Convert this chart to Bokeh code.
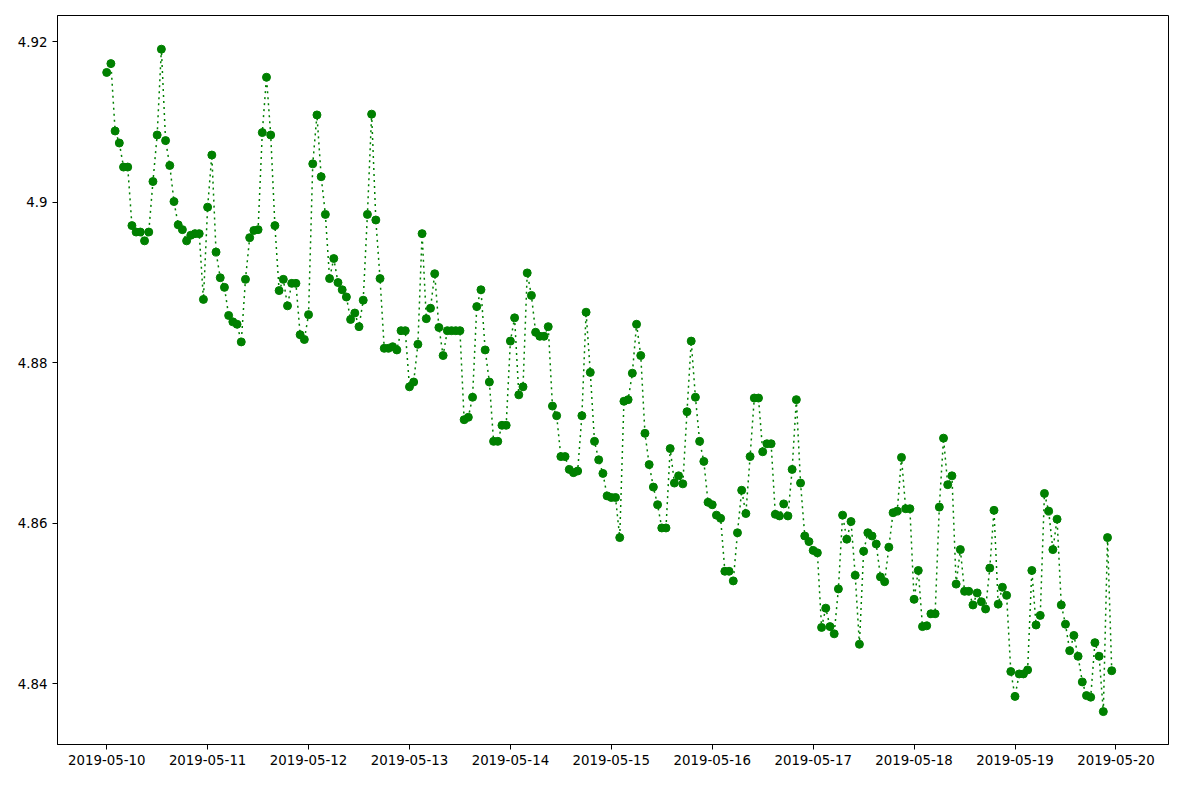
from datetime import datetime, timedelta

import pandas as pd
from bokeh.embed import file_html
from bokeh.models import DatetimeTickFormatter, FixedTicker, Range1d
from bokeh.plotting import figure
from bokeh.resources import INLINE

start = datetime(2019, 5, 10)

values = [
    4.9162, 4.9173, 4.9089, 4.9074, 4.9044, 4.9044, 4.8971, 4.8963, 4.8963, 4.8952, 4.8963, 4.9026,
    4.9084, 4.9191, 4.9077, 4.9046, 4.9001, 4.8972, 4.8966, 4.8952, 4.8959, 4.8961, 4.8961, 4.8879,
    4.8994, 4.9059, 4.8938, 4.8906, 4.8894, 4.8859, 4.8851, 4.8848, 4.8826, 4.8904, 4.8956, 4.8965,
    4.8966, 4.9087, 4.9156, 4.9084, 4.8971, 4.8890, 4.8904, 4.8871, 4.8899, 4.8899, 4.8835, 4.8829,
    4.8860, 4.9048, 4.9109, 4.9032, 4.8985, 4.8905, 4.8930, 4.8900, 4.8891, 4.8882, 4.8854, 4.8862,
    4.8845, 4.8878, 4.8985, 4.9110, 4.8978, 4.8905, 4.8818, 4.8818, 4.8820, 4.8816, 4.8840, 4.8840,
    4.8770, 4.8776, 4.8823, 4.8961, 4.8855, 4.8868, 4.8911, 4.8844, 4.8809, 4.8840, 4.8840, 4.8840,
    4.8840, 4.8729, 4.8732, 4.8757, 4.8870, 4.8891, 4.8816, 4.8776, 4.8702, 4.8702, 4.8722, 4.8722,
    4.8827, 4.8856, 4.8760, 4.8770, 4.8912, 4.8884, 4.8838, 4.8833, 4.8833, 4.8845, 4.8746, 4.8734,
    4.8683, 4.8683, 4.8667, 4.8663, 4.8665, 4.8734, 4.8863, 4.8788, 4.8702, 4.8679, 4.8662, 4.8634,
    4.8632, 4.8632, 4.8582, 4.8752, 4.8754, 4.8787, 4.8848, 4.8809, 4.8712, 4.8673, 4.8645, 4.8623,
    4.8594, 4.8594, 4.8693, 4.8650, 4.8659, 4.8649, 4.8739, 4.8827, 4.8757, 4.8702, 4.8677, 4.8626,
    4.8623, 4.8610, 4.8606, 4.8540, 4.8540, 4.8528, 4.8588, 4.8641, 4.8612, 4.8683, 4.8756, 4.8756,
    4.8689, 4.8699, 4.8699, 4.8611, 4.8609, 4.8624, 4.8609, 4.8667, 4.8754, 4.8650, 4.8584, 4.8577,
    4.8566, 4.8563, 4.8470, 4.8494, 4.8471, 4.8462, 4.8518, 4.8610, 4.8580, 4.8602, 4.8535, 4.8449,
    4.8565, 4.8588, 4.8584, 4.8574, 4.8533, 4.8527, 4.8570, 4.8613, 4.8615, 4.8682, 4.8618, 4.8618,
    4.8505, 4.8541, 4.8471, 4.8472, 4.8487, 4.8487, 4.8620, 4.8706, 4.8648, 4.8659, 4.8524, 4.8567,
    4.8515, 4.8515, 4.8498, 4.8513, 4.8502, 4.8493, 4.8544, 4.8616, 4.8499, 4.8520, 4.8510, 4.8415,
    4.8384, 4.8412, 4.8412, 4.8417, 4.8541, 4.8473, 4.8485, 4.8637, 4.8615, 4.8567, 4.8605, 4.8498,
    4.8474, 4.8441, 4.8460, 4.8434, 4.8402, 4.8385, 4.8383, 4.8451, 4.8434, 4.8365, 4.8582, 4.8416,
]
times = [start + timedelta(hours=i) for i in range(len(values))]

tick_dates = pd.date_range("2019-05-10", "2019-05-20", freq="D")
y_ticks = [4.84, 4.86, 4.88, 4.90, 4.92]

p = figure(width=1184, height=784, output_backend="svg", toolbar_location=None,
           x_axis_type="datetime",
           x_range=Range1d(start - timedelta(hours=11.7), start + timedelta(days=10, hours=12.5)),
           y_range=Range1d(4.8324, 4.9233),
           min_border_left=57, min_border_right=16, min_border_top=15, min_border_bottom=40)

p.line(times, values, line_color="green", line_dash="dotted", line_width=1.5)
p.scatter(times, values, size=8, fill_color="green", line_color="green")

p.xaxis.ticker = FixedTicker(ticks=[d.timestamp() * 1000 for d in tick_dates])
p.xaxis.formatter = DatetimeTickFormatter(days="%Y-%m-%d", months="%Y-%m-%d", hours="%Y-%m-%d")
p.yaxis.ticker = FixedTicker(ticks=y_ticks)
p.yaxis.formatter.precision = 2

p.grid.visible = False
p.outline_line_color = "black"
p.outline_line_width = 1
for ax in (p.xaxis, p.yaxis):
    ax.major_label_text_font = "DejaVu Sans"
    ax.major_label_text_font_size = "10pt"
    ax.major_label_text_color = "black"
    ax.minor_tick_line_color = None
    ax.major_tick_in = 0
    ax.major_tick_out = 5
    ax.axis_line_color = "black"

open("out.html", "w").write(file_html(p, INLINE))
